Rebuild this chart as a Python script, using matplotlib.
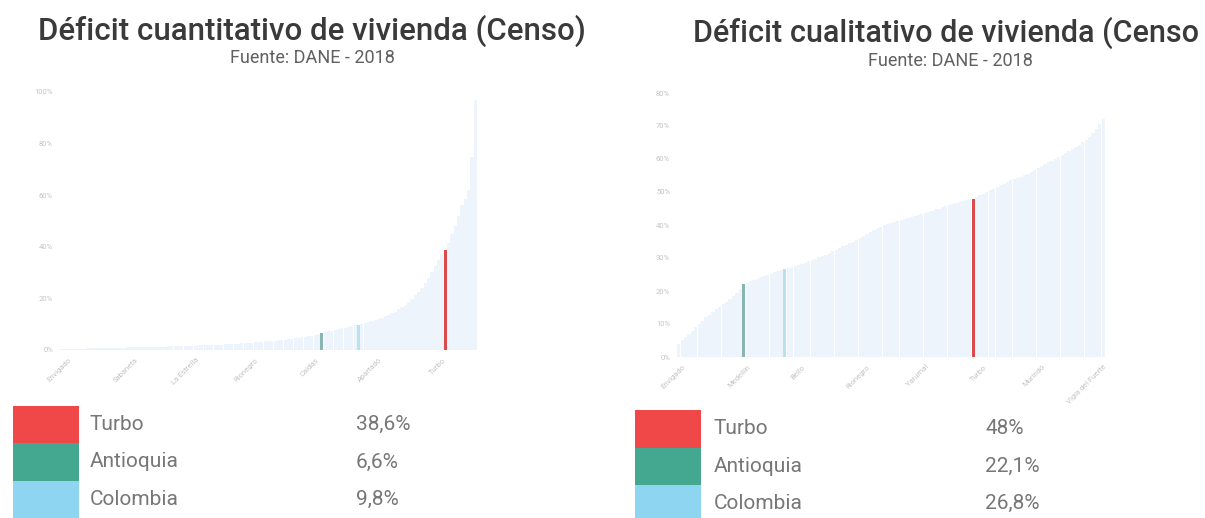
import numpy as np
import matplotlib
matplotlib.use("Agg")
import matplotlib.pyplot as plt
from matplotlib.patches import Rectangle

plt.rcParams['font.family'] = ['Roboto', 'DejaVu Sans']

# deficit cuantitativo, municipios ordenados (%)
cuant_vals = [
    0.2, 0.3, 0.3, 0.4, 0.4, 0.5, 0.5, 0.5, 0.6, 0.6,
    0.6, 0.7, 0.7, 0.7, 0.8, 0.8, 0.8, 0.9, 0.9, 0.9,
    1.0, 1.0, 1.0, 1.1, 1.1, 1.1, 1.2, 1.2, 1.2, 1.3,
    1.3, 1.3, 1.4, 1.4, 1.5, 1.5, 1.5, 1.6, 1.6, 1.7,
    1.7, 1.8, 1.8, 1.9, 1.9, 2.0, 2.0, 2.1, 2.1, 2.2,
    2.3, 2.3, 2.4, 2.5, 2.6, 2.7, 2.8, 2.9, 3.0, 3.1,
    3.2, 3.3, 3.4, 3.5, 3.6, 3.8, 3.9, 4.0, 4.2, 4.3,
    4.5, 4.7, 4.9, 5.1, 5.3, 5.6, 5.9, 6.2, 6.6, 6.9,
    7.2, 7.5, 7.8, 8.1, 8.4, 8.7, 9.0, 9.3, 9.6, 9.8,
    10.1, 10.5, 10.9, 11.3, 11.7, 12.1, 12.5, 13.0, 13.6, 14.2,
    14.9, 15.7, 16.6, 17.6, 18.7, 19.9, 21.2, 22.6, 24.2, 26.0,
    28.0, 30.3, 32.7, 35.0, 37.1, 38.6,
    41.5, 44.8, 48.2, 52.0, 56.1, 58.5, 62.0, 75.0, 97.0,
]

# deficit cualitativo, municipios ordenados (%)
cual_vals = [
    4.0, 5.1, 6.0, 7.0, 8.0, 9.0, 10.0, 11.0, 12.0, 12.8,
    13.6, 14.4, 15.2, 16.0, 16.8, 17.6, 18.5, 19.5, 20.6, 22.1,
    22.5, 22.9, 23.3, 23.7, 24.1, 24.5, 24.9, 25.3, 25.7, 26.1,
    26.5, 26.8, 27.1, 27.4, 27.7, 28.0, 28.3, 28.6, 29.0, 29.4,
    29.8, 30.2, 30.6, 31.0, 31.5, 32.0, 32.5, 33.0, 33.5, 34.0,
    34.5, 35.0, 35.5, 36.0, 36.6, 37.2, 37.8, 38.4, 39.0, 39.5,
    40.0, 40.3, 40.6, 40.9, 41.2, 41.5, 41.8, 42.1, 42.4, 42.7,
    43.0, 43.3, 43.6, 44.0, 44.3, 44.7, 45.0, 45.4, 45.8, 46.1,
    46.5, 46.8, 47.1, 47.4, 47.6, 47.8, 48.0, 48.5, 49.0, 49.5,
    50.0, 50.5, 51.0, 51.5, 52.0, 52.5, 53.0, 53.5, 54.0, 54.3,
    54.5, 55.0, 55.5, 56.0, 56.6, 57.2, 57.8, 58.4, 59.0, 59.5,
    60.0, 60.6, 61.2, 61.8, 62.4, 63.0, 63.6, 64.3, 65.0, 65.8,
    66.7, 67.8, 69.0, 70.5, 72.0,
]

series = ["Turbo", "Antioquia", "Colombia"]
cuant_highlight = [38.6, 6.6, 9.8]
cual_highlight = [48.0, 22.1, 26.8]
cuant_labels = ["38,6%", "6,6%", "9,8%"]
cual_labels = ["48%", "22,1%", "26,8%"]

cuant_xticks = [2, 22, 40, 58, 76, 95, 114]
cuant_xnames = ["Envigado", "Sabaneta", "La Estrella", "Rionegro", "Caldas", "Apartadó", "Turbo"]
cual_xticks = [1, 20, 36, 55, 72, 89, 106, 124]
cual_xnames = ["Envigado", "Medellín", "Bello", "Rionegro", "Yarumal", "Turbo", "Murindó", "Vigía del Fuerte"]

legend_colors = ["#f04848", "#43a88f", "#8ed5f1"]
bar_colors = ["#dc4b4b", "#86b6ad", "#b9e2f1"]
base_color = "#edf4fc"

W, H = 1205, 518
fig = plt.figure(figsize=(W / 100, H / 100), dpi=100)


def px_axes(x0, x1, ytop, ybot):
    return fig.add_axes([x0 / W, 1 - ybot / H, (x1 - x0) / W, (ybot - ytop) / H])


def draw_panel(ax, vals, hl, ymax, ystep, xt, xn):
    vals = np.array(vals)
    x = np.arange(len(vals))
    ax.bar(x, vals, width=0.95, color=base_color, linewidth=0)
    for v, c in zip(hl, bar_colors):
        i = int(np.argmin(np.abs(vals - v)))
        ax.bar(i, vals[i], width=0.9, color=c, linewidth=0, zorder=3)
    ax.set_xlim(-0.5, len(vals) - 0.5)
    ax.set_ylim(0, ymax)
    ax.set_yticks(np.arange(0, ymax + 1, ystep))
    ax.set_yticklabels([f"{int(t)}%" for t in np.arange(0, ymax + 1, ystep)])
    ax.set_xticks(xt)
    ax.set_xticklabels(xn, rotation=45, ha="right", rotation_mode="anchor")
    ax.tick_params(axis="both", length=0, labelsize=5.5, labelcolor="#c4c4c4", pad=5)
    for s in ax.spines.values():
        s.set_visible(False)
    ax.axhline(0, color="#eeeeee", lw=0.8, zorder=4)


ax1 = px_axes(60, 477, 92, 350)
draw_panel(ax1, cuant_vals, cuant_highlight, 100, 20, cuant_xticks, cuant_xnames)

ax2 = px_axes(677, 1105, 93, 357)
draw_panel(ax2, cual_vals, cual_highlight, 80, 10, cual_xticks, cual_xnames)

# titulos (el de la derecha aparece recortado en el original)
fig.text(312 / W, 1 - 31 / H, "Déficit cuantitativo de vivienda (Censo)",
         ha="center", va="center", fontsize=22.5, fontweight="medium", color="#3a3a3a")
fig.text(312 / W, 1 - 58 / H, "Fuente: DANE - 2018",
         ha="center", va="center", fontsize=13, color="#606060")
fig.text(1199 / W, 1 - 33 / H, "Déficit cualitativo de vivienda (Censo",
         ha="right", va="center", fontsize=22, fontweight="medium", color="#3a3a3a")
fig.text(950 / W, 1 - 61 / H, "Fuente: DANE - 2018",
         ha="center", va="center", fontsize=13, color="#606060")


# leyendas
def legend(px, ptop, rh, tx, vx, labels, fs):
    for k, (name, col, val) in enumerate(zip(series, legend_colors, labels)):
        y0 = ptop + k * rh
        fig.patches.append(Rectangle((px / W, 1 - (y0 + rh) / H), 66 / W, rh / H,
                                     transform=fig.transFigure, color=col, lw=0))
        fig.text(tx / W, 1 - (y0 + rh / 2) / H, name, ha="left", va="center",
                 fontsize=fs, color="#777777")
        fig.text(vx / W, 1 - (y0 + rh / 2) / H, val, ha="left", va="center",
                 fontsize=fs, color="#777777")


legend(13, 406, 37.3, 90, 356, cuant_labels, 15)
legend(635, 410, 37.5, 714, 985, cual_labels, 15)

fig.savefig("out.png", dpi=100)
